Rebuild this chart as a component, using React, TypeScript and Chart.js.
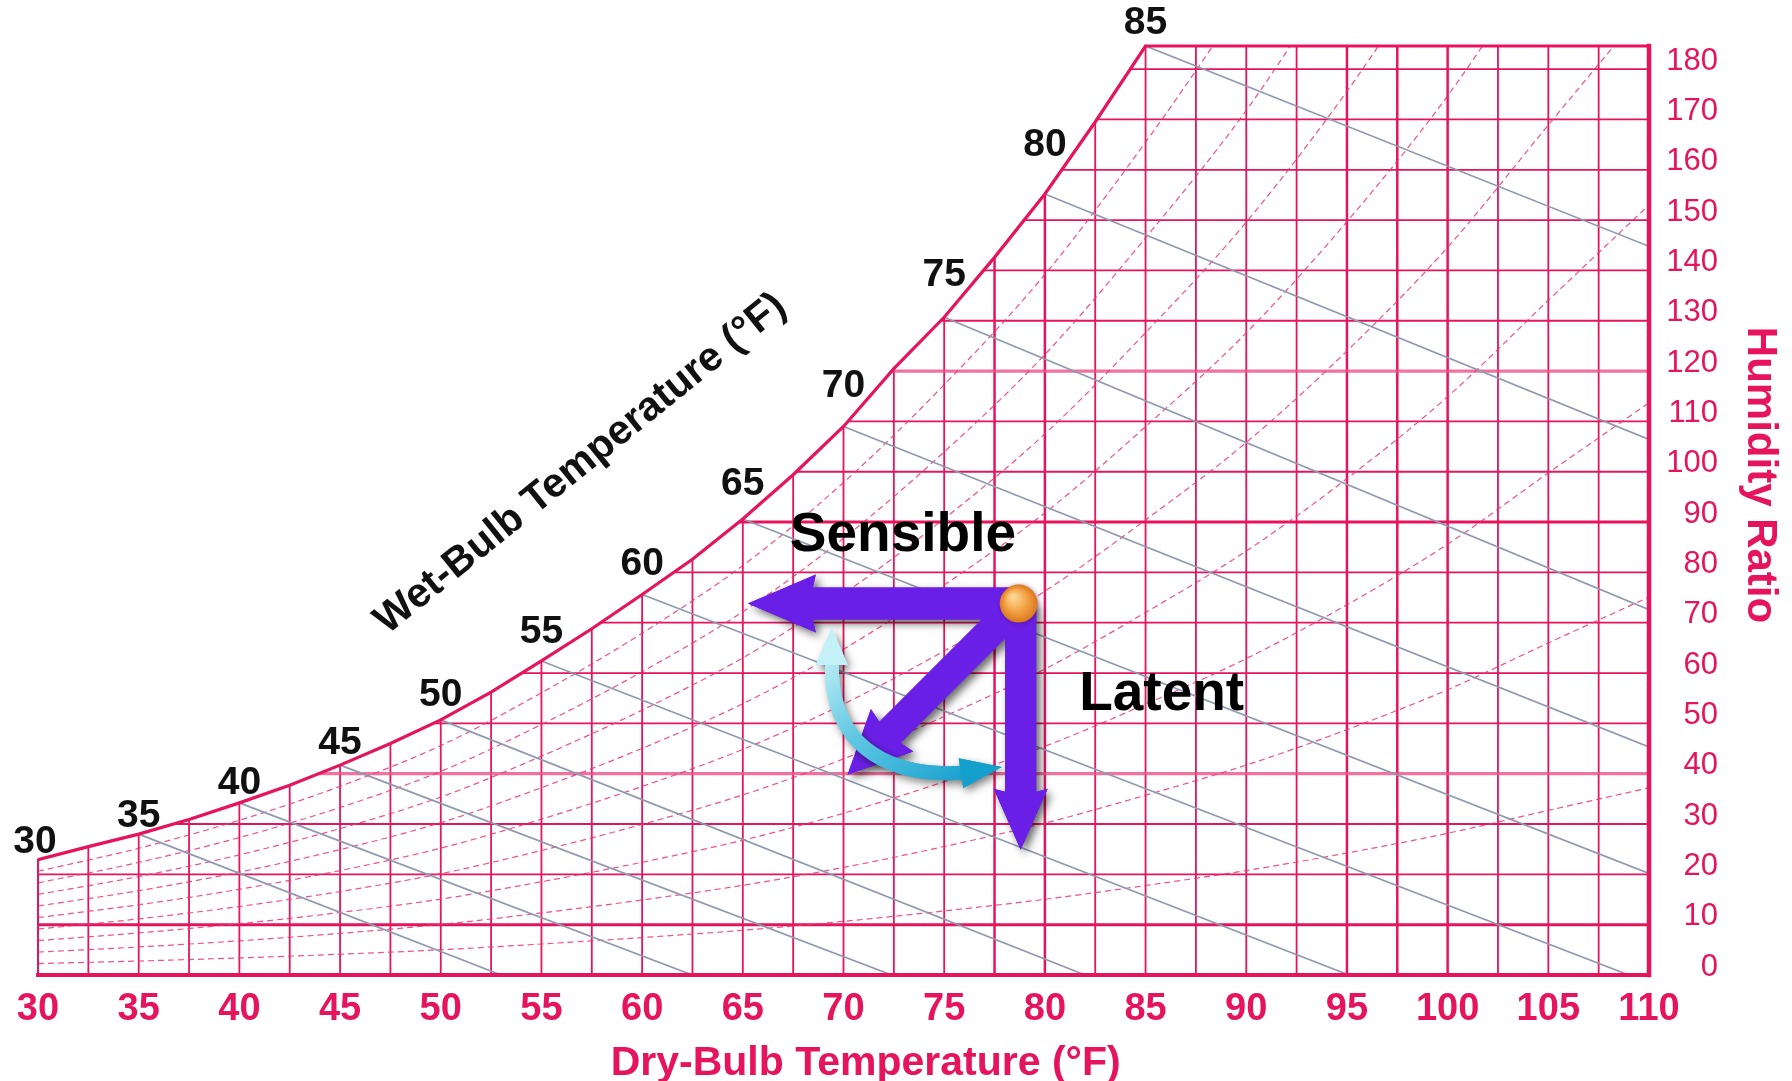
import React, { useEffect, useRef } from "react";
import { Chart, registerables } from "chart.js";

Chart.register(...registerables);

// ---------------- data ----------------
// Saturation curve: dry-bulb (°F) vs humidity ratio (grains/lb)
const satT = [30, 32.5, 35, 37.5, 40, 42.5, 45, 47.5, 50, 52.5, 55, 57.5, 60, 62.5, 65, 67.5, 70, 72.5, 75, 77.5, 80, 82.5, 85];
const satW = [22.9, 25.5, 28.0, 30.9, 34.2, 37.7, 41.7, 46.0, 50.7, 56.2, 62.4, 68.8, 75.6, 82.6, 90.6, 99.4, 109.0, 120.5, 130.7, 142.6, 155.2, 169.5, 184.6];

// Wet-bulb labels along the saturation curve
const wetBulbLabels = [30, 35, 40, 45, 50, 55, 60, 65, 70, 75, 80, 85];

// Relative-humidity curves (dashed), humidity ratio at each dry-bulb temperature
const rhT = [30, 35, 40, 45, 50, 55, 60, 65, 70, 75, 80, 85, 90, 95, 100, 105, 110];
const rh10 = [2.28, 2.78, 3.39, 4.13, 5.01, 6.16, 7.44, 8.89, 10.66, 12.73, 15.04, 17.78, 20.75, 24.24, 28.16, 32.71, 37.2];
const rh20 = [4.56, 5.57, 6.79, 8.27, 10.04, 12.33, 14.91, 17.82, 21.37, 25.53, 30.18, 35.72, 41.71, 48.75, 56.68, 65.98, 75.1];
const rh30 = [6.84, 8.36, 10.2, 12.42, 15.08, 18.53, 22.4, 26.78, 32.13, 38.41, 45.44, 53.81, 62.87, 73.56, 85.61, 99.76, 113.7];
const rh40 = [9.13, 11.15, 13.61, 16.58, 20.13, 24.74, 29.93, 35.79, 42.95, 51.36, 60.79, 72.04, 84.24, 98.64, 114.92, 134.07, 153.0];
const rh50 = [11.42, 13.95, 17.03, 20.75, 25.2, 30.97, 37.47, 44.83, 53.83, 64.39, 76.26, 90.43, 105.82, 124.0, 144.6, 168.9, 193.0];
const rh60 = [13.71, 16.75, 20.45, 24.92, 30.27, 37.22, 45.04, 53.91, 64.75, 77.5, 91.83, 108.97, 127.6, 149.7, 174.7, 204.3];
const rh70 = [16.0, 19.56, 23.88, 29.1, 35.36, 43.49, 52.64, 63.03, 75.74, 90.68, 107.52, 127.64, 149.59, 175.6, 205.2];
const rh80 = [18.3, 22.37, 27.31, 33.29, 40.46, 49.78, 60.27, 72.18, 86.77, 103.94, 123.3, 146.48, 171.8, 201.8];
const rh90 = [20.61, 25.18, 30.75, 37.49, 45.58, 56.08, 67.92, 81.37, 97.86, 117.3, 139.2, 165.5, 194.2];
const rhSeries = [rh10, rh20, rh30, rh40, rh50, rh60, rh70, rh80, rh90];

// Constant wet-bulb lines (gray): start on saturation curve, end point
const wbLineT = [35, 40, 45, 50, 55, 60, 65, 70, 75, 80, 85];
const wbEndT = [53, 62.5, 72.4, 82, 95.1, 109, 110, 110, 110, 110, 110];
const wbEndW = [0, 0, 0, 0, 0, 0, 20.2, 45.3, 72.6, 106.4, 144.8];

// Axes
const xMin = 30;
const xMax = 110;
const xStep = 5;
const xGridStep = 2.5;
const yMin = 0;
const yMax = 184.6;
const yStep = 10;

// Process annotation (state point and arrows)
const stateT = 78.7;
const stateW = 73.8;
const sensibleEndT = 65.25;
const latentEndW = 24.9;
const diagEndT = 70.2;
const diagEndW = 39.8;
const arcT = [69.42, 69.32, 71.81, 75.98];
const arcW = [62.2, 46.7, 39.2, 40.2];
const arcTipT = [69.42, 77.86];
const arcTipW = [69.0, 41.35];

// ---------------- styles ----------------
const FONT = '"Liberation Sans", Arial, Helvetica, sans-serif';
const CRIMSON = "#e5145d";
const LIGHT_CRIMSON = "rgba(236, 80, 135, 0.8)";
const RH_COLOR = "rgba(236, 50, 118, 0.85)";
const WB_COLOR = "#8f99b1";
const PURPLE = "#6a1fe6";

function arrowPath(ctx, x0, y0, x1, y1, shaftW, headLen, headHW) {
  const dx = x1 - x0;
  const dy = y1 - y0;
  const L = Math.hypot(dx, dy);
  const ux = dx / L;
  const uy = dy / L;
  const nx = -uy;
  const ny = ux;
  const bx = x1 - ux * headLen;
  const by = y1 - uy * headLen;
  const s = shaftW / 2;
  ctx.beginPath();
  ctx.moveTo(x0 + nx * s, y0 + ny * s);
  ctx.lineTo(bx + nx * s, by + ny * s);
  ctx.lineTo(bx + nx * headHW - ux * 3, by + ny * headHW - uy * 3);
  ctx.lineTo(x1, y1);
  ctx.lineTo(bx - nx * headHW - ux * 3, by - ny * headHW - uy * 3);
  ctx.lineTo(bx - nx * s, by - ny * s);
  ctx.lineTo(x0 - nx * s, y0 - ny * s);
  ctx.closePath();
}

function headPath(ctx, tipx, tipy, basex, basey, hw) {
  const dx = tipx - basex;
  const dy = tipy - basey;
  const L = Math.hypot(dx, dy);
  const nx = -dy / L;
  const ny = dx / L;
  ctx.beginPath();
  ctx.moveTo(basex + nx * hw - (dx / L) * 3, basey + ny * hw - (dy / L) * 3);
  ctx.lineTo(tipx, tipy);
  ctx.lineTo(basex - nx * hw - (dx / L) * 3, basey - ny * hw - (dy / L) * 3);
  ctx.closePath();
}

const psychroPlugin = {
  id: "psychro",
  beforeDatasetsDraw(chart) {
    const { ctx, scales } = chart;
    const xs = scales.x;
    const ys = scales.y;
    const px = (t) => xs.getPixelForValue(t);
    const py = (w) => ys.getPixelForValue(w);
    ctx.save();
    // clip to region beneath the saturation curve
    ctx.beginPath();
    ctx.moveTo(px(satT[0]), py(0));
    for (let i = 0; i < satT.length; i++) ctx.lineTo(px(satT[i]), py(satW[i]));
    ctx.lineTo(px(xMax), py(yMax));
    ctx.lineTo(px(xMax), py(0));
    ctx.closePath();
    ctx.clip();
    ctx.lineCap = "butt";
    // vertical grid
    for (let t = xMin + xGridStep; t < xMax - 0.01; t += xGridStep) {
      const heavy = t === 77.5 || t === 80 || t === 95 || t === 97.5 || t === 100;
      ctx.strokeStyle = CRIMSON;
      ctx.lineWidth = heavy ? 2.5 : 1.8;
      ctx.beginPath();
      ctx.moveTo(px(t), py(0));
      ctx.lineTo(px(t), py(yMax));
      ctx.stroke();
    }
    // horizontal grid
    for (let w = yStep; w <= 180; w += yStep) {
      if (w === 40 || w === 120) {
        ctx.strokeStyle = LIGHT_CRIMSON;
        ctx.lineWidth = 3.2;
      } else if (w === 10 || w === 90) {
        ctx.strokeStyle = CRIMSON;
        ctx.lineWidth = 2.9;
      } else {
        ctx.strokeStyle = CRIMSON;
        ctx.lineWidth = 1.8;
      }
      ctx.beginPath();
      ctx.moveTo(px(xMin), py(w));
      ctx.lineTo(px(xMax), py(w));
      ctx.stroke();
    }
    ctx.restore();
  },
  afterDatasetsDraw(chart) {
    const { ctx, scales, chartArea } = chart;
    const xs = scales.x;
    const ys = scales.y;
    const px = (t) => xs.getPixelForValue(t);
    const py = (w) => ys.getPixelForValue(w);
    ctx.save();

    // borders
    ctx.strokeStyle = CRIMSON;
    ctx.lineCap = "square";
    ctx.lineWidth = 4;
    ctx.beginPath();
    ctx.moveTo(px(xMin), py(0));
    ctx.lineTo(px(xMax), py(0));
    ctx.stroke();
    ctx.lineWidth = 4.5;
    ctx.beginPath();
    ctx.moveTo(px(xMax), py(0));
    ctx.lineTo(px(xMax), py(yMax));
    ctx.stroke();
    ctx.lineWidth = 3;
    ctx.beginPath();
    ctx.moveTo(px(satT[satT.length - 1]), py(yMax));
    ctx.lineTo(px(xMax), py(yMax));
    ctx.stroke();
    ctx.lineWidth = 2;
    ctx.beginPath();
    ctx.moveTo(px(xMin), py(0));
    ctx.lineTo(px(xMin), py(satW[0]));
    ctx.stroke();

    // wet-bulb labels along the curve
    ctx.fillStyle = "#111";
    ctx.font = `bold 39px ${FONT}`;
    ctx.textAlign = "center";
    ctx.textBaseline = "middle";
    wetBulbLabels.forEach((t, k) => {
      const i = satT.indexOf(t);
      const i0 = Math.max(0, i - 1);
      const i1 = Math.min(satT.length - 1, i + 1);
      const slope = Math.abs((py(satW[i1]) - py(satW[i0])) / (px(satT[i1]) - px(satT[i0])));
      const last = k === wetBulbLabels.length - 1;
      const off = last ? 23 : 10 + 29 * slope;
      const dx = k === 0 ? -3 : 0;
      ctx.fillText(String(t), px(t) + dx, py(satW[i]) - off);
    });

    // rotated wet-bulb title
    ctx.save();
    ctx.translate(px(57.3), py(99.8));
    ctx.rotate((-39 * Math.PI) / 180);
    ctx.font = `bold 41px ${FONT}`;
    ctx.textAlign = "center";
    ctx.textBaseline = "alphabetic";
    ctx.fillStyle = "#111";
    ctx.fillText("Wet-Bulb Temperature (°F)", 0, 0);
    ctx.restore();

    // axis titles
    ctx.fillStyle = CRIMSON;
    ctx.font = `bold 41px ${FONT}`;
    ctx.textAlign = "center";
    ctx.textBaseline = "alphabetic";
    ctx.fillText("Dry-Bulb Temperature (°F)", px(71.1), chartArea.bottom + 100);
    ctx.save();
    ctx.translate(chartArea.right + 99, 475);
    ctx.rotate(Math.PI / 2);
    ctx.font = `bold 42px ${FONT}`;
    ctx.fillText("Humidity Ratio", 0, 0);
    ctx.restore();

    // Sensible / Latent labels
    ctx.fillStyle = "#000";
    ctx.font = `bold 55px ${FONT}`;
    ctx.textAlign = "center";
    ctx.textBaseline = "alphabetic";
    ctx.fillText("Sensible", px(72.95), py(84.3));
    ctx.fillText("Latent", px(85.8), py(52.7));

    // purple arrows
    const sx = px(stateT);
    const sy = py(stateW);
    const arrows = [
      [sx, sy, px(sensibleEndT), sy, 32, 65, 29],
      [sx + 2, sy, sx + 2, py(latentEndW), 31, 58, 27],
      [sx, sy, px(diagEndT), py(diagEndW), 30, 60, 30],
    ];
    ctx.fillStyle = PURPLE;
    ctx.shadowColor = "rgba(0,0,0,0.6)";
    ctx.shadowBlur = 9;
    ctx.shadowOffsetX = 4;
    ctx.shadowOffsetY = 4;
    arrows.forEach((a) => {
      arrowPath(ctx, a[0], a[1], a[2], a[3], a[4], a[5], a[6]);
      ctx.fill();
    });
    ctx.shadowColor = "rgba(0,0,0,0)";
    arrows.forEach((a) => {
      arrowPath(ctx, a[0], a[1], a[2], a[3], a[4], a[5], a[6]);
      ctx.fill();
    });

    // cyan double-headed arc
    const P = arcT.map((t, i) => [px(t), py(arcW[i])]);
    const tip0 = [px(arcTipT[0]), py(arcTipW[0])];
    const tip1 = [px(arcTipT[1]), py(arcTipW[1])];
    const grad = ctx.createLinearGradient(tip0[0], tip0[1], P[3][0], P[3][1] + 20);
    grad.addColorStop(0, "#d6f6fb");
    grad.addColorStop(0.45, "#63c9e3");
    grad.addColorStop(1, "#129ecd");
    const drawArc = () => {
      ctx.beginPath();
      ctx.moveTo(P[0][0], P[0][1]);
      ctx.bezierCurveTo(P[1][0], P[1][1], P[2][0], P[2][1], P[3][0], P[3][1]);
      ctx.lineWidth = 14;
      ctx.strokeStyle = grad;
      ctx.stroke();
      ctx.fillStyle = "#c4f0f8";
      headPath(ctx, tip0[0], tip0[1], P[0][0], P[0][1], 16);
      ctx.fill();
      ctx.fillStyle = "#14a0cd";
      headPath(ctx, tip1[0], tip1[1], P[3][0], P[3][1], 15);
      ctx.fill();
    };
    ctx.lineCap = "butt";
    ctx.shadowColor = "rgba(0,0,0,0.5)";
    ctx.shadowBlur = 8;
    ctx.shadowOffsetX = 3;
    ctx.shadowOffsetY = 4;
    drawArc();
    ctx.shadowColor = "rgba(0,0,0,0)";
    drawArc();

    // orange state point
    const g = ctx.createRadialGradient(sx - 6, sy - 7, 2, sx, sy, 19);
    g.addColorStop(0, "#fcd592");
    g.addColorStop(0.55, "#f3a244");
    g.addColorStop(1, "#d9781c");
    ctx.shadowColor = "rgba(80,0,120,0.5)";
    ctx.shadowBlur = 5;
    ctx.shadowOffsetX = 1;
    ctx.shadowOffsetY = 1;
    ctx.fillStyle = g;
    ctx.beginPath();
    ctx.arc(sx, sy, 19, 0, Math.PI * 2);
    ctx.fill();

    ctx.restore();
  },
};

export default function App() {
  const canvasRef = useRef(null);

  useEffect(() => {
    const canvas = canvasRef.current;
    if (!canvas) return;
    Chart.defaults.font.family = FONT;

    const datasets = [];
    // saturation curve (first -> drawn on top)
    datasets.push({
      label: "Saturation",
      data: satT.map((t, i) => ({ x: t, y: satW[i] })),
      showLine: true,
      borderColor: CRIMSON,
      borderWidth: 3.2,
      pointRadius: 0,
      tension: 0,
      fill: false,
    });
    wbLineT.forEach((t, k) => {
      datasets.push({
        label: `WB ${t}`,
        data: [
          { x: t, y: satW[satT.indexOf(t)] },
          { x: wbEndT[k], y: wbEndW[k] },
        ],
        showLine: true,
        borderColor: WB_COLOR,
        borderWidth: 1.7,
        pointRadius: 0,
        fill: false,
      });
    });
    rhSeries.forEach((arr, k) => {
      datasets.push({
        label: `RH ${(k + 1) * 10}%`,
        data: arr.map((w, i) => ({ x: rhT[i], y: w })),
        showLine: true,
        borderColor: RH_COLOR,
        borderWidth: 1.2,
        borderDash: [6, 4],
        pointRadius: 0,
        cubicInterpolationMode: "monotone",
        fill: false,
      });
    });

    const chart = new Chart(canvas, {
      type: "scatter",
      data: { datasets },
      options: {
        animation: false,
        responsive: false,
        devicePixelRatio: 1,
        events: [],
        layout: { padding: { left: 38, top: 46, right: 74, bottom: 0 } },
        plugins: {
          legend: { display: false },
          tooltip: { enabled: false },
          title: { display: false },
        },
        scales: {
          x: {
            type: "linear",
            position: "bottom",
            min: xMin,
            max: xMax,
            grid: { display: false, drawTicks: false },
            border: { display: false },
            ticks: {
              stepSize: xStep,
              autoSkip: false,
              maxRotation: 0,
              padding: 12,
              color: CRIMSON,
              font: { family: FONT, size: 38, weight: "bold" },
            },
            afterFit: (scale) => {
              scale.height = 106;
            },
          },
          y: {
            type: "linear",
            position: "right",
            min: yMin,
            max: yMax,
            grid: { display: false, drawTicks: false },
            border: { display: false },
            ticks: {
              stepSize: yStep,
              includeBounds: false,
              autoSkip: false,
              padding: 17,
              crossAlign: "far",
              labelOffset: -8,
              color: CRIMSON,
              font: { family: FONT, size: 31, weight: "normal" },
            },
            afterFit: (scale) => {
              scale.width = 69;
            },
          },
        },
      },
      plugins: [psychroPlugin],
    });

    return () => {
      chart.destroy();
    };
  }, []);

  return (
    <div style={{ position: "fixed", left: 0, top: 0, width: 1792, height: 1081, background: "#fff" }}>
      <canvas ref={canvasRef} width={1792} height={1081} style={{ display: "block" }} />
    </div>
  );
}
